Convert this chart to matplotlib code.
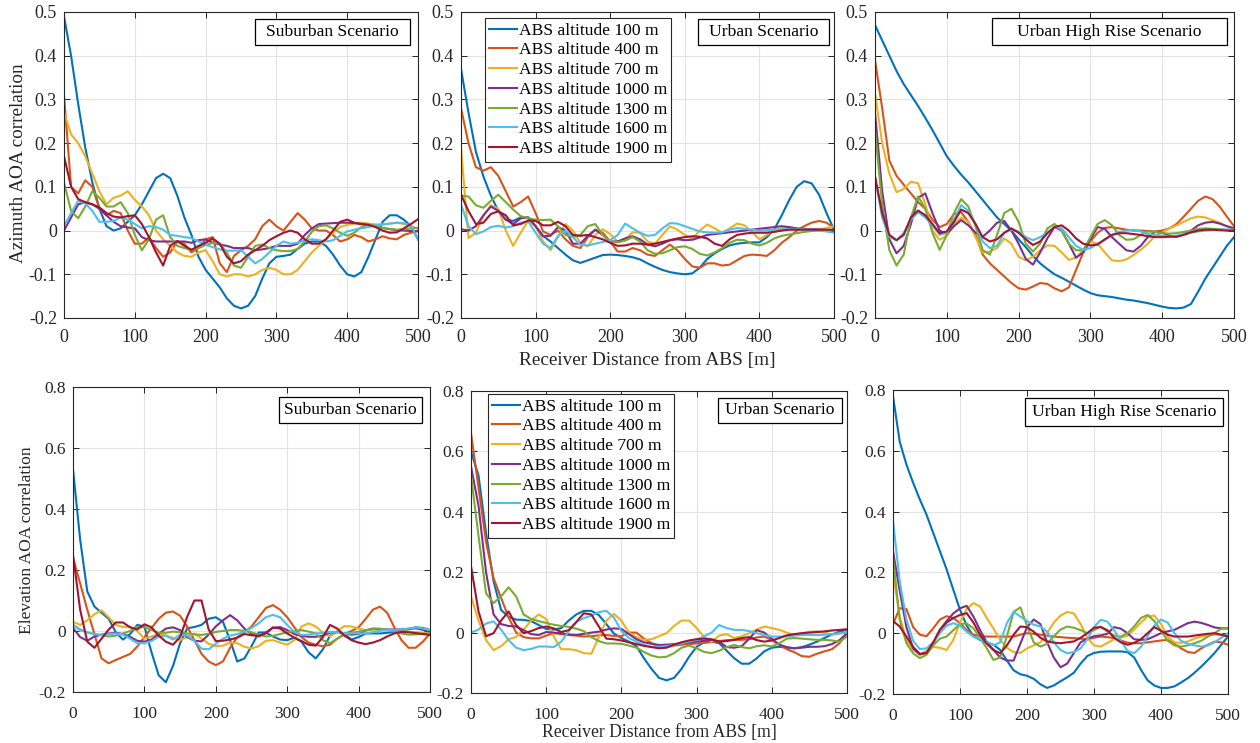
import numpy as np
import matplotlib
matplotlib.use("Agg")
import matplotlib.pyplot as plt
from matplotlib.patches import Rectangle

plt.rcParams['font.family'] = ['Liberation Serif', 'DejaVu Serif']

# receiver distance grid [m]
dist = np.arange(0, 501, 10)
altitudes = [100, 400, 700, 1000, 1300, 1600, 1900]
series_labels = ['ABS altitude %d m' % a for a in altitudes]
colors = ['#0072BD', '#D95319', '#EDB120', '#7E2F8E', '#77AC30', '#4DBEEE', '#A2142F']

# ---- azimuth AOA correlation ----
az_suburban = [
    [0.49,0.40,0.29,0.19,0.11,0.05,0.01,0.0,0.005,0.02, 0.035,0.06,0.09,0.12,0.13,0.12,0.08,0.03,-0.01,-0.06,
     -0.09,-0.11,-0.13,-0.155,-0.172,-0.178,-0.172,-0.15,-0.11,-0.075, -0.06,-0.058,-0.055,-0.042,-0.03,-0.025,-0.025,-0.035,-0.055,-0.08,
     -0.1,-0.105,-0.095,-0.06,-0.02,0.02,0.035,0.035,0.025,0.01, -0.02],
    [0.31,0.10,0.085,0.115,0.10,0.05,0.035,0.045,0.04,0.0, -0.03,-0.03,-0.015,-0.04,-0.06,-0.05,-0.025,-0.03,-0.05,-0.04,
     -0.02,-0.015,-0.075,-0.095,-0.058,-0.045,-0.035,-0.02,0.01,0.025, 0.01,0.0,0.02,0.04,0.025,0.005,0.0,0.0,-0.01,-0.025,
     -0.02,-0.01,-0.015,-0.025,-0.02,-0.013,-0.018,-0.02,-0.01,-0.005, 0.0],
    [0.27,0.22,0.2,0.17,0.13,0.09,0.06,0.075,0.08,0.09, 0.07,0.055,0.035,0.0,-0.02,-0.035,-0.05,-0.058,-0.06,-0.05,
     -0.045,-0.07,-0.1,-0.105,-0.1,-0.1,-0.105,-0.1,-0.09,-0.085, -0.09,-0.1,-0.1,-0.09,-0.07,-0.05,-0.035,-0.02,-0.005,0.008,
     0.013,0.016,0.018,0.016,0.014,0.014,0.016,0.018,0.015,0.01, 0.005],
    [0.0,0.03,0.06,0.065,0.06,0.05,0.035,0.02,0.01,0.007, 0.005,-0.015,-0.022,-0.025,-0.025,-0.025,-0.025,-0.025,-0.028,-0.022,
     -0.02,-0.028,-0.032,-0.035,-0.04,-0.04,-0.04,-0.045,-0.043,-0.04, -0.035,-0.035,-0.035,-0.03,-0.01,0.005,0.015,0.016,0.017,0.018,
     0.018,0.017,0.015,0.013,0.01,0.006,0.003,0.001,0.0,-0.001, -0.002],
    [0.11,0.045,0.028,0.055,0.09,0.075,0.055,0.055,0.065,0.04, -0.01,-0.045,-0.02,0.025,0.035,-0.015,-0.035,-0.04,-0.044,-0.04,
     -0.033,-0.028,-0.03,-0.05,-0.08,-0.085,-0.06,-0.035,-0.032,-0.04, -0.045,-0.047,-0.047,-0.042,-0.025,-0.003,0.01,0.012,0.005,-0.005,
     -0.012,-0.005,0.008,0.014,0.01,0.006,0.004,0.002,0.003,0.005, 0.006],
    [0.01,0.04,0.068,0.062,0.045,0.02,0.02,0.022,0.03,0.025, 0.015,0.005,0.01,0.008,0.002,-0.01,-0.012,-0.015,-0.017,-0.025,
     -0.032,-0.038,-0.043,-0.046,-0.046,-0.045,-0.06,-0.075,-0.065,-0.05, -0.035,-0.025,-0.03,-0.028,-0.022,-0.02,-0.022,-0.025,-0.022,-0.012,
     -0.002,0.002,0.005,0.008,0.012,0.014,0.016,0.018,0.017,0.012, -0.02],
    [0.17,0.1,0.072,0.065,0.06,0.053,0.04,0.032,0.03,0.033, 0.035,0.015,-0.015,-0.05,-0.08,-0.035,-0.024,-0.035,-0.044,-0.035,
     -0.028,-0.018,-0.03,-0.06,-0.075,-0.07,-0.055,-0.045,-0.035,-0.022, -0.013,-0.005,0.0,-0.005,-0.02,-0.03,-0.03,-0.02,0.0,0.02,
     0.025,0.018,0.015,0.013,0.008,0.0,-0.005,-0.004,0.005,0.015, 0.026],
]

az_urban = [
    [0.37,0.27,0.18,0.124,0.08,0.045,0.025,0.022,0.03,0.03, 0.01,-0.012,-0.025,-0.04,-0.055,-0.068,-0.074,-0.068,-0.062,-0.056,
     -0.055,-0.056,-0.058,-0.061,-0.066,-0.075,-0.083,-0.09,-0.095,-0.098, -0.1,-0.098,-0.085,-0.065,-0.052,-0.042,-0.034,-0.03,-0.028,-0.027,
     -0.027,-0.015,0.003,0.035,0.07,0.1,0.113,0.108,0.082,0.04, 0.002],
    [0.28,0.2,0.145,0.137,0.145,0.125,0.09,0.055,0.065,0.078, 0.04,-0.002,-0.01,0.0,-0.02,-0.035,-0.04,-0.015,0.002,-0.005,
     -0.025,-0.048,-0.048,-0.04,-0.045,-0.055,-0.058,-0.045,-0.032,-0.045, -0.065,-0.082,-0.085,-0.075,-0.075,-0.08,-0.078,-0.068,-0.058,-0.055,
     -0.056,-0.058,-0.045,-0.028,-0.015,0.0,0.01,0.018,0.022,0.018, 0.006],
    [0.19,-0.017,-0.005,0.033,0.058,0.05,0.0,-0.035,-0.005,0.022, 0.01,-0.025,-0.045,-0.015,0.015,0.0,-0.028,-0.036,-0.01,0.003,
     -0.008,-0.025,-0.02,-0.004,-0.005,-0.025,-0.03,-0.01,0.01,0.002, -0.01,-0.019,0.0,0.014,0.005,-0.005,0.005,0.016,0.012,-0.003,
     -0.02,-0.01,0.002,0.005,0.006,0.004,0.003,0.002,0.003,0.006, 0.01],
    [0.003,0.0,0.01,0.035,0.055,0.045,0.025,0.015,0.028,0.03, 0.01,-0.013,-0.012,0.008,0.0,-0.03,-0.03,-0.012,0.002,-0.01,
     -0.025,-0.025,-0.018,-0.013,-0.02,-0.032,-0.036,-0.03,-0.022,-0.02, -0.022,-0.021,-0.016,-0.01,-0.008,-0.006,-0.004,-0.002,0.0,0.002,
     0.004,0.006,0.008,0.01,0.008,0.005,0.004,0.003,0.002,0.001, 0.001],
    [0.08,0.078,0.058,0.052,0.068,0.082,0.065,0.048,0.033,0.028, 0.025,0.024,0.025,0.01,-0.01,-0.015,-0.01,0.01,0.015,-0.01,
     -0.025,-0.027,-0.023,-0.015,-0.025,-0.045,-0.053,-0.052,-0.045,-0.038, -0.036,-0.042,-0.053,-0.057,-0.05,-0.04,-0.028,-0.021,-0.022,-0.03,
     -0.034,-0.028,-0.018,-0.012,-0.009,-0.006,-0.003,-0.001,0.0,0.001, 0.002],
    [0.06,0.01,-0.008,-0.002,0.008,0.011,0.007,0.01,0.018,0.021, -0.005,-0.03,-0.04,-0.012,0.0,-0.015,-0.033,-0.034,-0.03,-0.026,
     -0.022,-0.01,0.016,0.005,-0.005,-0.012,-0.01,0.005,0.017,0.016, 0.01,0.004,-0.002,-0.004,-0.005,-0.004,0.002,0.006,0.004,0.002,
     0.0,0.001,0.002,0.003,0.003,0.003,0.003,0.002,0.0,-0.002, -0.005],
    [0.082,0.045,0.015,0.018,0.038,0.044,0.035,0.012,0.015,0.023, 0.022,0.012,0.012,0.02,0.01,-0.01,-0.012,-0.01,-0.015,-0.02,
     -0.028,-0.035,-0.034,-0.03,-0.03,-0.032,-0.03,-0.026,-0.022,-0.018, -0.015,-0.013,-0.014,-0.018,-0.03,-0.035,-0.02,-0.01,-0.007,-0.005,
     -0.005,-0.005,-0.003,0.0,0.002,0.002,0.002,0.002,0.002,0.002, 0.002],
]

az_highrise = [
    [0.47,0.435,0.4,0.365,0.335,0.31,0.285,0.258,0.23,0.2, 0.17,0.148,0.128,0.11,0.09,0.07,0.05,0.03,0.015,0.0,
     -0.02,-0.038,-0.058,-0.075,-0.088,-0.1,-0.108,-0.117,-0.126,-0.135, -0.143,-0.148,-0.15,-0.152,-0.155,-0.158,-0.16,-0.163,-0.166,-0.17,
     -0.174,-0.177,-0.178,-0.176,-0.168,-0.14,-0.11,-0.085,-0.06,-0.035, -0.015],
    [0.39,0.28,0.16,0.125,0.105,0.085,0.065,0.05,0.025,0.008, 0.015,0.038,0.042,0.02,-0.01,-0.055,-0.075,-0.09,-0.105,-0.12,
     -0.132,-0.135,-0.128,-0.12,-0.122,-0.132,-0.139,-0.13,-0.09,-0.05, -0.025,-0.005,0.006,0.008,0.005,0.002,0.0,0.0,-0.001,-0.002,
     0.0,0.005,0.015,0.032,0.05,0.068,0.078,0.072,0.055,0.032, 0.01],
    [0.315,0.2,0.13,0.088,0.095,0.112,0.108,0.06,0.0,-0.021, -0.012,0.015,0.03,0.02,-0.015,-0.05,-0.048,-0.04,-0.018,-0.03,
     -0.06,-0.068,-0.06,-0.045,-0.034,-0.035,-0.05,-0.067,-0.062,-0.045, -0.025,-0.03,-0.05,-0.068,-0.07,-0.066,-0.056,-0.044,-0.03,-0.012,
     -0.004,0.005,0.012,0.02,0.028,0.032,0.03,0.024,0.018,0.01, 0.005],
    [0.27,0.09,-0.02,-0.052,-0.035,0.015,0.075,0.085,0.04,0.0, -0.008,0.01,0.024,0.012,-0.005,-0.014,0.0,0.018,0.022,0.0,
     -0.03,-0.065,-0.078,-0.05,-0.018,0.008,0.0,-0.03,-0.062,-0.05, -0.02,0.008,0.004,-0.015,-0.03,-0.045,-0.048,-0.035,-0.015,-0.003,
     -0.005,-0.012,-0.014,-0.008,0.0,0.012,0.018,0.02,0.016,0.01, 0.005],
    [0.23,0.06,-0.045,-0.08,-0.055,0.03,0.078,0.05,-0.005,-0.044, -0.01,0.04,0.072,0.055,0.01,-0.045,-0.055,-0.01,0.04,0.05,
     0.02,-0.03,-0.048,-0.03,0.005,0.015,0.0,-0.03,-0.045,-0.045, -0.015,0.015,0.024,0.012,-0.01,-0.021,-0.02,-0.01,-0.002,-0.003,
     -0.006,-0.007,-0.006,-0.003,0.0,0.004,0.005,0.004,0.003,0.002, 0.002],
    [0.12,0.03,-0.015,-0.022,-0.005,0.025,0.042,0.03,0.012,-0.01, -0.005,0.025,0.058,0.045,0.015,-0.025,-0.04,-0.035,-0.005,0.002,
     -0.002,-0.015,-0.022,-0.015,-0.005,0.008,0.005,-0.015,-0.035,-0.044, -0.04,-0.03,-0.022,-0.01,-0.003,0.0,0.002,-0.002,-0.008,-0.01,
     -0.012,-0.014,-0.012,-0.008,-0.005,-0.002,0.0,0.001,0.002,0.002, 0.002],
    [0.125,0.04,-0.01,-0.022,-0.01,0.03,0.046,0.035,0.015,-0.006, -0.002,0.02,0.048,0.04,0.015,-0.015,-0.025,-0.02,-0.005,0.005,
     -0.005,-0.02,-0.033,-0.025,-0.006,0.008,0.012,0.0,-0.018,-0.03, -0.034,-0.032,-0.02,-0.01,-0.006,-0.006,-0.008,-0.01,-0.013,-0.015,
     -0.015,-0.014,-0.014,-0.01,-0.004,0.0,0.002,0.002,0.001,0.0, 0.0],
]

# ---- elevation AOA correlation ----
el_suburban = [
    [0.53,0.3,0.13,0.08,0.06,0.04,-0.005,-0.028,-0.01,0.02, 0.015,-0.07,-0.145,-0.168,-0.115,-0.04,0.009,0.013,0.02,0.04,
     0.045,0.03,-0.03,-0.1,-0.09,-0.05,-0.005,-0.005,-0.018,-0.028, -0.03,-0.022,-0.035,-0.07,-0.09,-0.06,-0.015,-0.002,-0.01,-0.028,
     -0.02,-0.008,-0.008,-0.008,-0.006,-0.003,0.0,0.006,0.012,0.01, 0.003],
    [0.24,0.156,0.07,-0.01,-0.09,-0.106,-0.095,-0.085,-0.075,-0.051, -0.02,0.01,0.04,0.06,0.064,0.05,0.014,-0.03,-0.075,-0.1,
     -0.112,-0.1,-0.055,-0.02,-0.005,0.015,0.045,0.075,0.085,0.07, 0.045,0.012,-0.02,-0.038,-0.045,-0.05,-0.045,-0.025,-0.01,0.0,
     0.012,0.04,0.07,0.08,0.06,0.012,-0.03,-0.055,-0.055,-0.035, -0.008],
    [0.03,0.02,0.035,0.055,0.068,0.045,0.02,0.013,0.014,0.0, -0.025,-0.018,-0.01,-0.015,-0.022,-0.03,-0.02,-0.008,-0.025,-0.042,
     -0.05,-0.048,-0.038,-0.04,-0.052,-0.057,-0.05,-0.032,-0.03,-0.038, -0.045,-0.03,0.015,0.025,0.015,-0.005,-0.018,0.0,0.016,0.015,
     0.008,0.003,0.004,0.005,0.003,0.001,0.0,-0.002,-0.004,-0.006, -0.008],
    [0.01,-0.02,-0.032,-0.018,-0.012,-0.008,-0.006,-0.01,-0.019,-0.032, -0.035,-0.028,-0.01,0.008,0.012,0.003,-0.02,-0.032,-0.034,-0.012,
     0.015,0.035,0.052,0.035,0.008,-0.01,-0.018,-0.005,0.01,0.013, 0.003,-0.01,-0.016,-0.019,-0.019,-0.015,-0.005,-0.004,-0.008,-0.012,
     -0.01,0.002,0.008,0.006,0.005,0.005,0.005,0.007,0.009,0.004, -0.002],
    [0.02,0.005,-0.005,-0.01,-0.014,-0.018,-0.015,-0.008,0.0,0.014, 0.012,0.004,-0.006,-0.006,-0.002,-0.004,-0.008,-0.011,-0.013,-0.009,
     -0.003,0.0,0.003,0.003,0.0,-0.004,-0.012,-0.018,-0.016,-0.01, -0.004,0.0,0.003,-0.002,-0.008,-0.03,-0.04,-0.025,-0.012,-0.006,
     -0.002,0.002,0.007,0.008,0.003,-0.002,-0.008,-0.012,-0.011,-0.009, -0.008],
    [0.02,0.002,-0.004,-0.01,-0.013,-0.01,-0.008,-0.012,-0.025,-0.04, -0.04,-0.033,-0.018,-0.015,-0.028,-0.012,-0.015,-0.032,-0.058,-0.06,
     -0.042,-0.025,-0.015,-0.01,-0.003,0.01,0.025,0.045,0.053,0.045, 0.02,-0.003,-0.013,-0.012,-0.008,-0.006,-0.003,-0.004,-0.007,-0.008,
     -0.008,-0.008,-0.004,0.001,0.003,0.004,0.005,0.008,0.012,0.008, 0.003],
    [0.25,0.07,-0.035,-0.055,-0.025,0.005,0.028,0.028,0.012,0.005, 0.022,0.012,-0.015,-0.035,-0.045,-0.02,0.047,0.1,0.1,0.005,
     -0.033,-0.032,-0.028,-0.022,-0.01,-0.014,-0.016,-0.008,0.012,0.008, -0.008,-0.022,-0.033,-0.045,-0.048,-0.02,0.02,0.008,-0.015,-0.03,
     -0.038,-0.043,-0.038,-0.03,-0.018,-0.008,-0.003,-0.004,-0.007,-0.01, -0.013],
]

el_urban = [
    [0.6,0.52,0.33,0.17,0.075,0.052,0.043,0.042,0.038,0.025, 0.012,0.01,0.015,0.04,0.06,0.072,0.072,0.058,0.028,-0.003,
     -0.018,-0.03,-0.045,-0.085,-0.12,-0.15,-0.158,-0.15,-0.12,-0.08, -0.047,-0.032,-0.03,-0.035,-0.06,-0.085,-0.103,-0.103,-0.085,-0.062,
     -0.05,-0.047,-0.05,-0.052,-0.048,-0.04,-0.03,-0.018,-0.006,0.003, 0.009],
    [0.66,0.48,0.3,0.18,0.115,0.05,0.0,-0.015,-0.019,-0.019, -0.01,-0.002,-0.005,-0.008,-0.01,-0.013,-0.012,-0.009,-0.008,-0.011,
     -0.012,0.0,0.0,-0.02,-0.035,-0.045,-0.047,-0.043,-0.04,-0.038, -0.036,-0.034,-0.031,-0.028,-0.025,-0.024,-0.024,-0.022,-0.016,-0.013,
     -0.025,-0.04,-0.055,-0.065,-0.078,-0.08,-0.07,-0.062,-0.055,-0.035, -0.002],
    [0.12,0.04,-0.025,-0.058,-0.045,-0.022,-0.014,0.01,0.04,0.06, 0.045,-0.013,-0.055,-0.055,-0.058,-0.068,-0.07,-0.015,0.04,0.062,
     0.04,0.0,-0.015,-0.024,-0.022,-0.012,-0.002,0.022,0.04,0.04, 0.015,-0.015,-0.03,-0.01,-0.005,-0.018,-0.012,-0.002,0.01,0.02,
     0.015,0.009,0.0,-0.008,-0.002,0.003,0.004,0.0,-0.007,-0.004, 0.003],
    [0.55,0.42,0.2,0.06,0.028,0.022,0.02,0.008,-0.005,-0.008, 0.002,0.0,-0.002,-0.006,-0.008,-0.004,0.0,0.003,0.01,0.014,
     0.012,-0.005,-0.022,-0.032,-0.037,-0.041,-0.04,-0.038,-0.036,-0.033, -0.03,-0.027,-0.024,-0.03,-0.048,-0.05,-0.045,-0.02,0.008,0.0,
     -0.02,-0.04,-0.048,-0.052,-0.05,-0.047,-0.047,-0.045,-0.038,-0.025, -0.002],
    [0.52,0.32,0.13,0.098,0.12,0.15,0.12,0.06,0.045,0.038, 0.032,0.026,0.022,0.019,0.013,0.005,-0.015,-0.028,-0.036,-0.036,
     -0.037,-0.043,-0.05,-0.064,-0.076,-0.082,-0.08,-0.068,-0.05,-0.043, -0.052,-0.064,-0.068,-0.06,-0.048,-0.041,-0.048,-0.052,-0.045,-0.042,
     -0.046,-0.035,-0.02,-0.018,-0.02,-0.022,-0.024,-0.024,-0.026,-0.03, -0.013],
    [0.0,0.01,0.03,0.037,0.01,-0.025,-0.05,-0.058,-0.054,-0.046, -0.046,-0.048,-0.03,0.005,0.035,0.048,0.056,0.068,0.072,0.05,
     0.005,-0.018,-0.03,-0.04,-0.047,-0.047,-0.045,-0.04,-0.036,-0.03, -0.024,-0.012,0.0,0.025,0.015,0.009,0.009,0.005,-0.002,-0.008,
     -0.013,-0.013,-0.013,-0.01,-0.008,-0.008,-0.008,-0.007,-0.005,-0.002, 0.0],
    [0.22,0.07,-0.012,-0.002,0.04,0.07,0.025,-0.002,0.005,0.015, 0.02,0.014,0.002,0.008,0.035,0.064,0.06,0.02,-0.02,-0.022,
     -0.026,-0.032,-0.038,-0.044,-0.048,-0.052,-0.05,-0.04,-0.032,-0.026, -0.022,-0.02,-0.022,-0.03,-0.028,-0.024,-0.018,-0.015,-0.025,-0.03,
     -0.026,-0.018,-0.009,-0.005,-0.002,0.0,0.002,0.004,0.007,0.009, 0.011],
]

el_highrise = [
    [0.78,0.63,0.555,0.495,0.44,0.39,0.33,0.27,0.21,0.143, 0.077,0.025,-0.01,-0.022,-0.03,-0.038,-0.055,-0.09,-0.122,-0.135,
     -0.14,-0.15,-0.168,-0.18,-0.172,-0.158,-0.145,-0.13,-0.1,-0.075, -0.065,-0.061,-0.06,-0.06,-0.06,-0.062,-0.08,-0.12,-0.155,-0.172,
     -0.18,-0.18,-0.175,-0.162,-0.148,-0.13,-0.11,-0.088,-0.065,-0.038, -0.011],
    [0.03,0.082,0.08,0.02,-0.005,-0.01,0.016,0.045,0.056,0.05, 0.033,0.01,-0.005,-0.01,-0.011,-0.011,-0.011,-0.011,-0.011,-0.005,
     0.0,-0.002,-0.005,-0.008,-0.011,-0.013,-0.015,-0.016,-0.018,-0.02, -0.015,-0.011,-0.013,-0.016,-0.024,-0.031,-0.033,-0.033,-0.03,-0.027,
     -0.024,-0.022,-0.035,-0.05,-0.062,-0.065,-0.05,-0.038,-0.028,-0.03, -0.038],
    [0.2,0.055,-0.022,-0.055,-0.07,-0.058,-0.045,-0.048,-0.055,-0.022, 0.035,0.08,0.099,0.088,0.05,0.015,-0.022,-0.048,-0.062,-0.065,
     -0.05,-0.04,-0.03,0.0,0.035,0.058,0.07,0.065,0.03,-0.015, -0.04,-0.044,-0.032,-0.02,-0.015,-0.008,0.012,0.035,0.055,0.058,
     0.03,-0.012,-0.03,-0.032,-0.027,-0.018,-0.011,-0.008,-0.005,-0.007, -0.011],
    [0.27,0.14,0.02,-0.05,-0.07,-0.065,-0.035,0.011,0.04,0.065, 0.082,0.09,0.055,0.01,-0.03,-0.055,-0.08,-0.09,-0.09,-0.035,
     0.02,0.045,0.03,-0.03,-0.08,-0.112,-0.1,-0.065,-0.03,-0.018, -0.01,-0.007,-0.002,0.02,0.015,0.0,-0.02,-0.022,-0.02,-0.01,
     0.0,0.006,0.011,0.022,0.033,0.038,0.034,0.027,0.019,0.016, 0.016],
    [0.25,0.044,-0.033,-0.066,-0.082,-0.071,-0.04,-0.018,-0.011,0.01, 0.03,0.032,0.016,-0.015,-0.05,-0.088,-0.08,-0.01,0.07,0.085,
     0.025,-0.03,-0.044,-0.035,-0.01,0.012,0.022,0.018,0.01,0.0, 0.01,0.022,0.005,-0.008,-0.011,0.0,0.022,0.05,0.06,0.04,
     0.008,-0.025,-0.04,-0.044,-0.04,-0.033,-0.025,-0.011,0.0,0.015, 0.016],
    [0.37,0.17,0.045,-0.025,-0.052,-0.05,-0.03,0.0,0.025,0.033, 0.025,0.005,-0.011,-0.02,-0.027,-0.04,-0.03,0.033,0.07,0.055,
     0.04,0.028,0.022,0.005,-0.03,-0.055,-0.066,-0.062,-0.05,-0.02, 0.02,0.044,0.038,0.01,-0.025,-0.058,-0.066,-0.045,-0.01,0.025,
     0.045,0.035,0.0,-0.025,-0.035,-0.04,-0.044,-0.04,-0.03,-0.015, 0.0],
    [0.04,0.022,-0.011,-0.045,-0.068,-0.065,-0.03,0.011,0.035,0.05, 0.06,0.066,0.035,-0.005,-0.035,-0.055,-0.066,-0.04,-0.005,0.022,
     0.02,0.005,-0.015,-0.027,-0.031,-0.033,-0.03,-0.027,-0.015,0.0, 0.018,0.02,0.01,-0.015,-0.03,-0.038,-0.032,-0.02,0.0,0.02,
     0.008,-0.005,-0.011,-0.011,-0.011,-0.008,-0.005,-0.002,0.0,-0.005, -0.011],
]

az_yticks = [-0.2, -0.1, 0, 0.1, 0.2, 0.3, 0.4, 0.5]
az_yticklabels = ['-0.2', '-0.1', '0', '0.1', '0.2', '0.3', '0.4', '0.5']
el_yticks = [-0.2, 0, 0.2, 0.4, 0.6, 0.8]
el_yticklabels = ['-0.2', '0', '0.2', '0.4', '0.6', '0.8']
xticks = [0, 100, 200, 300, 400, 500]

W, H = 1260, 743
fig = plt.figure(figsize=(W / 100, H / 100), dpi=100)
DARK = '#262626'


def axes_px(l, t, r, b):
    return fig.add_axes([l / W, 1 - b / H, (r - l) / W, (b - t) / H])


def text_box(l, t, r, b, s, size):
    fig.add_artist(Rectangle((l / W, 1 - b / H), (r - l) / W, (b - t) / H,
                             transform=fig.transFigure, facecolor='white',
                             edgecolor='black', linewidth=0.9, zorder=5))
    fig.text((l + r) / 2 / W, 1 - (t + b) / 2 / H, s, ha='center', va='center',
             fontsize=size, color='black', zorder=6)


def draw_panel(ax, data, ylim, yticks, yticklabels, tsize, xpad):
    for vals, c, lab in zip(data, colors, series_labels):
        ax.plot(dist, vals, color=c, lw=1.5, label=lab)
    ax.set_xlim(0, 500)
    ax.set_ylim(*ylim)
    ax.set_xticks(xticks)
    ax.set_yticks(yticks)
    ax.set_yticklabels(yticklabels)
    ax.grid(True, color='#e3e3e3', lw=0.8)
    ax.set_axisbelow(True)
    ax.tick_params(direction='in', top=True, right=True, length=4, width=0.7,
                   colors=DARK, labelsize=tsize)
    ax.tick_params(axis='y', pad=5)
    ax.tick_params(axis='x', pad=xpad)
    for s in ax.spines.values():
        s.set_color(DARK)
        s.set_linewidth(0.8)


def add_legend(ax, fx, fy):
    leg = ax.legend(loc='upper left', bbox_to_anchor=(fx, fy), borderaxespad=0,
                    fancybox=False, edgecolor=DARK, framealpha=1, fontsize=12.6,
                    handlelength=1.55, handletextpad=0.12, labelspacing=0.2,
                    borderpad=0.25)
    leg.get_frame().set_linewidth(0.8)


# top row: azimuth
ax1 = axes_px(64, 12, 418, 318)
ax2 = axes_px(461, 12, 834, 318)
ax3 = axes_px(875, 12, 1234, 318)
draw_panel(ax1, az_suburban, (-0.2, 0.5), az_yticks, az_yticklabels, 13, 8)
draw_panel(ax2, az_urban, (-0.2, 0.5), az_yticks, az_yticklabels, 13, 8)
draw_panel(ax3, az_highrise, (-0.2, 0.5), az_yticks, az_yticklabels, 13, 8)
add_legend(ax2, (485 - 461) / 373, 1 - (18 - 12) / 306)

# bottom row: elevation
ax4 = axes_px(73, 387, 430, 692)
ax5 = axes_px(471, 391, 847, 693)
ax6 = axes_px(893, 390, 1228, 694)
draw_panel(ax4, el_suburban, (-0.2, 0.8), el_yticks, el_yticklabels, 12.5, 10)
draw_panel(ax5, el_urban, (-0.2, 0.8), el_yticks, el_yticklabels, 12.5, 10)
draw_panel(ax6, el_highrise, (-0.2, 0.8), el_yticks, el_yticklabels, 12.5, 10)
add_legend(ax5, (488 - 471) / 376, 1 - (394 - 391) / 302)

# scenario tags
text_box(255, 19, 410, 45, 'Suburban Scenario', 12.6)
text_box(698, 19, 829, 45, 'Urban Scenario', 12.6)
text_box(992, 18, 1227, 45, 'Urban High Rise Scenario', 12.6)
text_box(279, 397, 422, 423, 'Suburban Scenario', 12.6)
text_box(718, 398, 842, 423, 'Urban Scenario', 12.6)
text_box(1025, 398, 1223, 426, 'Urban High Rise Scenario', 12.6)

# axis titles
fig.text(19 / W, 1 - 163 / H, 'Azimuth AOA correlation', rotation=90,
         ha='center', va='center', fontsize=13.9, color=DARK)
fig.text(27.5 / W, 1 - 540 / H, 'Elevation AOA correlation', rotation=90,
         ha='center', va='center', fontsize=12.6, color=DARK)
fig.text(647 / W, 1 - 360 / H, 'Receiver Distance from ABS [m]',
         ha='center', va='center', fontsize=13.9, color=DARK)
fig.text(659 / W, 1 - 733 / H, 'Receiver Distance from ABS [m]',
         ha='center', va='center', fontsize=12.7, color=DARK)

fig.savefig('out.png', dpi=100)
